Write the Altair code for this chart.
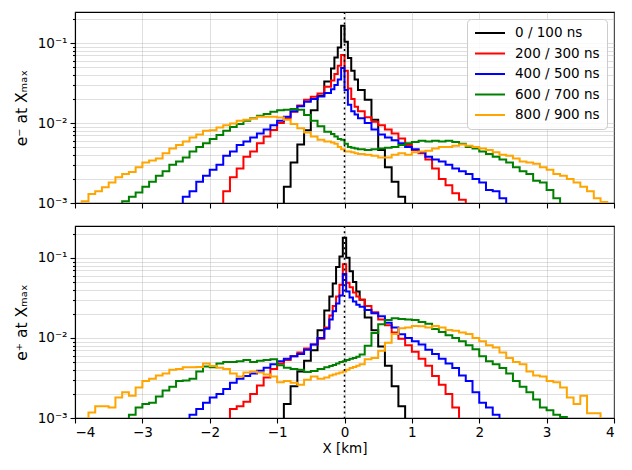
import altair as alt
import pandas as pd

SERIES = ["0 / 100 ns", "200 / 300 ns", "400 / 500 ns", "600 / 700 ns", "800 / 900 ns"]
COLORS = ["black", "red", "blue", "green", "orange"]

XTICKS = [-4, -3, -2, -1, 0, 1, 2, 3, 4]
YTICKS = [0.001, 0.002, 0.003, 0.004, 0.005, 0.006, 0.007, 0.008, 0.009,
          0.01, 0.02, 0.03, 0.04, 0.05, 0.06, 0.07, 0.08, 0.09, 0.1, 0.2]

# histogram bin edges (km)
EDGES_TOP = ([round(-4.0 + 0.1 * i, 3) for i in range(39)]
             + [-0.15, -0.1, -0.05, 0.0, 0.05, 0.1, 0.15]
             + [round(0.2 + 0.1 * i, 3) for i in range(39)])
EDGES_BOT = ([round(-4.0 + 0.1 * i, 3) for i in range(38)]
             + [-0.225, -0.175, -0.125, -0.075, -0.025, 0.025, 0.075, 0.125, 0.175, 0.225]
             + [round(0.3 + 0.1 * i, 3) for i in range(38)])

# ---- e- at Xmax : (first bin left edge, bin contents) ----
TOP_BLACK_START = -1.0
TOP_BLACK = [5e-4, 1.6e-3, 3.2e-3, 5.4e-3, 8.1e-3, 0.0145, 0.022, 0.033,
             0.048, 0.066, 0.088, 0.165, 0.104, 0.065, 0.045, 0.035,
             0.026, 0.0195, 0.011, 4.6e-3, 2.8e-3, 1.85e-3, 1.2e-3, 5e-4]

TOP_RED_START = -1.9
TOP_RED = [5e-4, 1.4e-3, 2.1e-3, 2.7e-3, 3.8e-3, 4.4e-3, 5.6e-3, 6.8e-3, 8.2e-3, 0.010,
           0.0115, 0.0138, 0.0166, 0.0195, 0.0214, 0.0235, 0.0285,
           0.034, 0.041, 0.052, 0.071, 0.045, 0.027, 0.020, 0.016,
           0.014, 0.0118, 0.0104, 0.0094, 0.0083, 0.0074, 0.0064, 0.0053, 0.0046,
           0.0042, 0.0035, 0.0027, 0.0020, 0.00167, 0.00132, 0.0011, 5e-4]

TOP_BLUE_START = -2.5
TOP_BLUE = [5e-4, 1.2e-3, 1.4e-3, 1.85e-3, 2.2e-3, 2.6e-3, 3.0e-3, 3.9e-3, 4.4e-3, 5.3e-3,
            5.9e-3, 6.6e-3, 7.4e-3, 8.3e-3, 9.4e-3, 0.0107, 0.012, 0.0141, 0.0162, 0.0185,
            0.020, 0.0215, 0.0237,
            0.0265, 0.030, 0.035, 0.049, 0.026, 0.017, 0.014, 0.0128,
            0.0115, 0.0100, 0.0083, 0.0072, 0.0066, 0.0061, 0.0056, 0.0050, 0.0047, 0.0043,
            0.0038, 0.0035, 0.0033, 0.0030, 0.0027, 0.0025, 0.0023, 0.0020, 0.0018, 0.00145,
            0.0014, 0.00115, 5e-4]

TOP_GREEN_START = -3.4
TOP_GREEN = [5e-4, 1.05e-3, 1.2e-3, 1.35e-3, 1.6e-3, 1.85e-3, 2.2e-3, 2.5e-3, 3.0e-3, 3.3e-3,
             3.7e-3, 4.4e-3, 5.0e-3, 5.6e-3, 6.3e-3, 7.1e-3, 8.0e-3, 8.9e-3, 9.7e-3, 0.0107,
             0.0115, 0.0123, 0.013, 0.0138, 0.0145, 0.0147, 0.0150, 0.0147, 0.0126, 0.0107,
             0.0091, 0.0078,
             0.0073, 0.0068, 0.0063, 0.0062, 0.0055, 0.0050, 0.0049, 0.0048,
             0.0047, 0.0046, 0.0047, 0.0048, 0.0049, 0.0050, 0.0053, 0.0056, 0.0058, 0.0060,
             0.0059, 0.0060, 0.0059, 0.0060, 0.0058, 0.0055, 0.0050, 0.0048, 0.0044, 0.0041,
             0.0038, 0.0035, 0.0032, 0.0028, 0.0025, 0.0023, 0.0019, 0.0018, 0.00145, 0.00115,
             5e-4]

TOP_ORANGE_START = -4.0
TOP_ORANGE = [5e-4, 1.05e-3, 1.3e-3, 1.4e-3, 1.57e-3, 1.8e-3, 2.1e-3, 2.3e-3, 2.45e-3, 2.8e-3,
              3.2e-3, 3.4e-3, 3.6e-3, 4.2e-3, 4.8e-3, 5.3e-3, 5.9e-3, 6.6e-3, 7.2e-3, 8.0e-3,
              8.1e-3, 8.8e-3, 9.4e-3, 9.9e-3, 0.0107, 0.0110, 0.0114, 0.0120, 0.0120, 0.0120,
              0.0117, 0.0110, 0.0097, 0.0086, 0.0076, 0.0068, 0.0062, 0.0059,
              0.0057, 0.0055, 0.0050, 0.0047, 0.0044, 0.0044, 0.0043, 0.0042,
              0.0041, 0.0040, 0.0039, 0.0037, 0.0037, 0.0040, 0.0042, 0.0040, 0.0043, 0.0044,
              0.0045, 0.0048, 0.0050, 0.0050, 0.0052, 0.0054, 0.0052, 0.0050, 0.0048, 0.0046,
              0.0043, 0.0040, 0.0039, 0.0036, 0.0033, 0.0032, 0.0031, 0.0028, 0.0026, 0.0023,
              0.0022, 0.0020, 0.0018, 0.0016, 0.0014, 0.00115, 1.03e-3, 5e-4]

# ---- e+ at Xmax ----
BOT_BLACK_START = -1.0
BOT_BLACK = [5e-4, 1.5e-3, 2.5e-3, 3.8e-3, 5.2e-3, 7.0e-3, 0.0125,
             0.022, 0.033, 0.048, 0.077, 0.104, 0.178, 0.100, 0.068, 0.050, 0.038, 0.030,
             0.018, 0.0125, 7.8e-3, 4.5e-3, 2.5e-3, 1.4e-3, 5e-4]

BOT_RED_START = -1.8
BOT_RED = [5e-4, 1.3e-3, 1.4e-3, 1.6e-3, 2.0e-3, 2.55e-3, 3.2e-3, 4.1e-3, 4.8e-3, 5.3e-3,
           5.9e-3, 6.6e-3, 7.4e-3, 8.3e-3, 9.8e-3,
           0.0135, 0.019, 0.025, 0.033, 0.046, 0.083, 0.049, 0.043, 0.037, 0.033, 0.030,
           0.025, 0.021, 0.017, 0.0144, 0.0117, 9.8e-3, 8.1e-3, 6.7e-3, 5.5e-3, 4.5e-3,
           3.35e-3, 2.6e-3, 2.0e-3, 1.35e-3, 5e-4]

BOT_BLUE_START = -2.4
BOT_BLUE = [5e-4, 1.1e-3, 1.3e-3, 1.55e-3, 1.8e-3, 2.0e-3, 2.3e-3, 2.75e-3, 3.1e-3, 3.35e-3,
            3.6e-3, 3.9e-3, 4.25e-3, 4.7e-3, 5.1e-3, 5.5e-3, 5.9e-3, 6.3e-3, 7.1e-3, 8.3e-3,
            0.010,
            0.013, 0.017, 0.0215, 0.027, 0.034, 0.063, 0.038, 0.032, 0.0285, 0.026, 0.0245,
            0.0224, 0.0204, 0.0186, 0.0155, 0.0135, 0.0111, 0.010, 9.1e-3, 8.3e-3, 7.1e-3,
            6.3e-3, 5.5e-3, 4.8e-3, 4.2e-3, 3.4e-3, 2.9e-3, 2.1e-3, 1.55e-3, 1.35e-3, 1.1e-3,
            5e-4]

BOT_GREEN_START = -3.3
BOT_GREEN = [5e-4, 1.1e-3, 1.35e-3, 1.5e-3, 1.55e-3, 1.85e-3, 2.2e-3, 2.45e-3, 2.9e-3, 2.95e-3,
             3.1e-3, 3.8e-3, 4.4e-3, 4.3e-3, 4.8e-3, 5.0e-3, 5.0e-3, 5.1e-3, 5.3e-3, 5.0e-3,
             5.2e-3, 5.3e-3, 5.4e-3, 4.55e-3, 4.25e-3, 4.1e-3, 4.0e-3, 3.75e-3, 3.85e-3, 4.1e-3,
             4.3e-3, 4.45e-3, 4.6e-3, 4.8e-3, 5.0e-3, 5.1e-3, 5.3e-3, 5.5e-3, 5.6e-3, 5.8e-3,
             6.2e-3,
             8.0e-3, 0.0115, 0.0148, 0.0168, 0.0176, 0.0172, 0.0170, 0.0168, 0.0158, 0.0150,
             0.0129, 0.0119, 0.0108, 0.0100, 9.1e-3, 8.1e-3, 7.2e-3, 5.9e-3, 5.1e-3, 4.7e-3,
             4.2e-3, 3.6e-3, 2.9e-3, 2.45e-3, 2.1e-3, 1.7e-3, 1.35e-3, 1.25e-3, 1.1e-3, 1.03e-3,
             5e-4]

BOT_ORANGE_START = -3.9
BOT_ORANGE = [5e-4, 1.17e-3, 1.4e-3, 1.4e-3, 1.35e-3, 1.8e-3, 2.1e-3, 1.9e-3, 2.4e-3, 2.9e-3,
              3.1e-3, 3.4e-3, 3.6e-3, 4.0e-3, 4.1e-3, 4.3e-3, 4.3e-3, 4.35e-3, 4.8e-3, 4.45e-3,
              4.25e-3, 4.1e-3, 3.6e-3, 3.3e-3, 3.7e-3, 3.8e-3, 3.7e-3, 3.5e-3, 3.3e-3, 2.8e-3,
              2.9e-3, 2.75e-3, 2.6e-3, 3.0e-3, 3.3e-3, 3.1e-3,
              3.2e-3, 3.4e-3, 3.5e-3, 3.6e-3, 3.7e-3, 3.8e-3, 4.0e-3, 4.2e-3, 4.35e-3, 4.5e-3,
              4.7e-3,
              5.4e-3, 5.6e-3, 6.9e-3, 8.7e-3, 0.0112, 0.0132, 0.0135, 0.0141, 0.0140, 0.0135,
              0.0141, 0.0135, 0.0126, 0.0123, 0.0117, 0.0112, 0.0100, 9.1e-3, 8.1e-3, 7.6e-3,
              6.6e-3, 5.6e-3, 5.0e-3, 4.7e-3, 3.8e-3, 3.4e-3, 3.3e-3, 2.9e-3, 2.8e-3, 2.4e-3,
              1.8e-3, 1.5e-3, 1.9e-3, 1.15e-3, 1.15e-3, 5e-4]

TOP_SERIES = [(TOP_BLACK_START, TOP_BLACK), (TOP_RED_START, TOP_RED), (TOP_BLUE_START, TOP_BLUE),
              (TOP_GREEN_START, TOP_GREEN), (TOP_ORANGE_START, TOP_ORANGE)]
BOT_SERIES = [(BOT_BLACK_START, BOT_BLACK), (BOT_RED_START, BOT_RED), (BOT_BLUE_START, BOT_BLUE),
              (BOT_GREEN_START, BOT_GREEN), (BOT_ORANGE_START, BOT_ORANGE)]


def make_rows(edges, series):
    rows = []
    for name, (start, vals) in zip(SERIES, series):
        i0 = next(k for k, e in enumerate(edges) if abs(e - start) < 1e-9)
        for j, v in enumerate(vals):
            rows.append({"x": edges[i0 + j], "y": v, "s": name})
        end = min(i0 + len(vals), len(edges) - 1)
        rows.append({"x": edges[end], "y": vals[-1], "s": name})
    return pd.DataFrame(rows)


FS = 13.5
MAJOR = "datum.value == 0.1 || datum.value == 0.01 || datum.value == 0.001"
YLABEL = ("datum.value == 0.1 ? '10⁻¹' : datum.value == 0.01 ? '10⁻²' : "
          "datum.value == 0.001 ? '10⁻³' : ''")
XLABEL = "datum.value < 0 ? '−' + (-datum.value) : '' + datum.value"
W = 539


def panel(df, ytitle, ymax, bottom, height):
    if bottom:
        xenc = alt.X("x:Q", title="X [km]",
                     scale=alt.Scale(domain=[-4, 4], nice=False, zero=False),
                     axis=alt.Axis(values=XTICKS, labelExpr=XLABEL, tickSize=5, grid=True,
                                   labelPadding=2, titlePadding=3))
        color = alt.Color("s:N", scale=alt.Scale(domain=SERIES, range=COLORS), legend=None)
    else:
        xenc = alt.X("x:Q", title=None,
                     scale=alt.Scale(domain=[-4, 4], nice=False, zero=False),
                     axis=alt.Axis(values=XTICKS, labels=False, tickSize=5, grid=True))
        color = alt.Color("s:N", scale=alt.Scale(domain=SERIES, range=COLORS),
                          legend=alt.Legend(orient="top-right", title=None, offset=7, padding=7,
                                            fillColor="rgba(255,255,255,0.85)",
                                            strokeColor="#cccccc", cornerRadius=4,
                                            labelFontSize=FS, labelColor="black",
                                            symbolType="stroke", symbolSize=900,
                                            symbolStrokeWidth=2, clipHeight=14,
                                            rowPadding=6.5, labelOffset=9))
    yenc = alt.Y("y:Q", title=ytitle,
                 scale=alt.Scale(type="log", domain=[0.001, ymax], nice=False),
                 axis=alt.Axis(values=YTICKS, labelExpr=YLABEL, grid=True,
                               tickSize={"condition": {"test": MAJOR, "value": 5}, "value": 2.5},
                               labelPadding=3, titlePadding=8, titleFontSize=15.5))
    lines = alt.Chart(df).mark_line(interpolate="step-after", clip=True, strokeWidth=2).encode(
        x=xenc, y=yenc, color=color)
    rule = alt.Chart(pd.DataFrame({"x": [0.0]})).mark_rule(
        color="black", strokeDash=[2, 3.3], strokeWidth=1.5).encode(x=alt.X("x:Q"))
    return alt.layer(lines, rule).properties(width=W, height=height)


top = panel(make_rows(EDGES_TOP, TOP_SERIES), "e⁻ at Xₘₐₓ", 0.245, False, 191)
bot = panel(make_rows(EDGES_BOT, BOT_SERIES), "e⁺ at Xₘₐₓ", 0.25, True, 192)

chart = (
    alt.vconcat(top, bot, spacing=13)
    .resolve_scale(color="independent", y="independent")
    .resolve_legend(color="independent")
    .properties(padding={"left": 5, "top": 2, "right": 0, "bottom": 3})
    .configure(font="DejaVu Sans")
    .configure_view(stroke="black", strokeWidth=1.1)
    .configure_axis(labelFontSize=FS, titleFontSize=FS, labelColor="black", titleColor="black",
                    tickColor="black", domainColor="black", titleFontWeight="normal",
                    gridColor="#b0b0b0", gridOpacity=0.5, gridWidth=0.8,
                    domainWidth=1.1, tickWidth=1.1)
)

chart.save("out.html", embed_options={"renderer": "svg", "actions": False})
